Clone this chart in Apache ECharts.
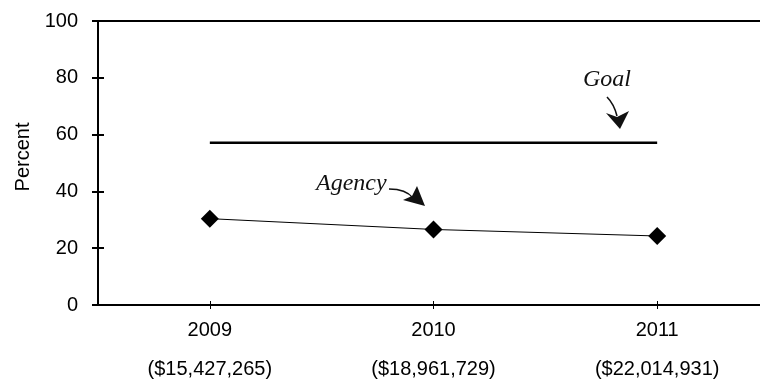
<!DOCTYPE html>
<html>
<head>
<meta charset="utf-8">
<script src="https://cdn.jsdelivr.net/npm/echarts@6/dist/echarts.min.js"></script>
<style>
html,body{margin:0;padding:0;background:#fff;}
#c{width:760px;height:385px;}
</style>
</head>
<body>
<div id="c"></div>
<script>
// ---- data ----
const years = ['2009', '2010', '2011'];
const budgets = ['($15,427,265)', '($18,961,729)', '($22,014,931)'];
const agency = [30.4, 26.6, 24.3];
const goal = [57.1, 57.1, 57.1];
const yMin = 0, yMax = 100, yStep = 20;
const yTitle = 'Percent';
const goalLabel = 'Goal';
const agencyLabel = 'Agency';

const sans = '"Liberation Sans", Arial, sans-serif';
const serif = '"Liberation Serif", "Times New Roman", serif';

const chart = echarts.init(document.getElementById('c'), null, {renderer: 'canvas'});
const option = {
  animation: false,
  backgroundColor: '#fff',
  grid: {left: 98, top: 21, width: 671, height: 284, containLabel: false, outerBoundsMode: 'none'},
  xAxis: [
    {
      type: 'category', data: years, position: 'bottom', boundaryGap: true,
      axisLine: {show: true, onZero: false, lineStyle: {color: '#000', width: 2}},
      axisTick: {show: true, alignWithLabel: true, length: 4, lineStyle: {color: '#000', width: 1}},
      axisLabel: {
        color: '#000', fontFamily: sans, fontSize: 20, lineHeight: 39, margin: 6,
        formatter: function (v, i) { return v + '\n' + budgets[i]; }
      },
      splitLine: {show: false}
    },
    {
      type: 'category', data: years, position: 'bottom', boundaryGap: true,
      axisLine: {show: false, onZero: false},
      axisTick: {show: true, inside: true, alignWithLabel: true, length: 4, lineStyle: {color: '#000', width: 1}},
      axisLabel: {show: false}, splitLine: {show: false}
    },
    {
      type: 'category', data: years, position: 'top', boundaryGap: true,
      axisLine: {show: true, onZero: false, lineStyle: {color: '#000', width: 2}},
      axisTick: {show: false}, axisLabel: {show: false}, splitLine: {show: false}
    }
  ],
  yAxis: [
    {
      type: 'value', min: yMin, max: yMax, interval: yStep, position: 'left',
      axisLine: {show: true, onZero: false, lineStyle: {color: '#000', width: 2}},
      axisTick: {show: true, length: 6, lineStyle: {color: '#000', width: 2}},
      axisLabel: {color: '#000', fontFamily: sans, fontSize: 20, margin: 20},
      splitLine: {show: false},
      name: yTitle, nameLocation: 'middle', nameRotate: 90, nameGap: 64,
      nameTextStyle: {color: '#000', fontFamily: sans, fontSize: 20, padding: [0, 0, 0, 12]}
    },
    {
      type: 'value', min: yMin, max: yMax, interval: yStep, position: 'left',
      axisLine: {show: false, onZero: false},
      axisTick: {show: true, inside: true, length: 6, lineStyle: {color: '#000', width: 2}},
      axisLabel: {show: false}, splitLine: {show: false}
    }
  ],
  series: [
    {
      name: goalLabel, type: 'line', data: goal, xAxisIndex: 0, yAxisIndex: 0,
      symbol: 'none', lineStyle: {color: '#000', width: 2.5}, z: 3
    },
    {
      name: agencyLabel, type: 'line', data: agency, xAxisIndex: 0, yAxisIndex: 0,
      symbol: 'diamond', symbolSize: 18,
      itemStyle: {color: '#000'}, lineStyle: {color: '#000', width: 1}, z: 4
    }
  ],
  graphic: [
    {type: 'text', left: 316, top: 172, style: {text: agencyLabel, font: 'italic 24px ' + serif, fill: '#111'}},
    {type: 'bezierCurve', shape: {x1: 389, y1: 189, cpx1: 406, cpy1: 189, x2: 413, y2: 198},
      style: {stroke: '#111', lineWidth: 1.6, fill: null}},
    {type: 'polygon', shape: {points: [[425, 206], [403, 200], [412, 196], [417, 186]]}, style: {fill: '#111'}},
    {type: 'text', left: 583, top: 68, style: {text: goalLabel, font: 'italic 24px ' + serif, fill: '#111'}},
    {type: 'bezierCurve', shape: {x1: 607, y1: 97, cpx1: 614, cpy1: 104, x2: 617, y2: 116},
      style: {stroke: '#111', lineWidth: 1.6, fill: null}},
    {type: 'polygon', shape: {points: [[620, 129], [606, 113], [617, 117], [629, 111]]}, style: {fill: '#111'}}
  ]
};
chart.setOption(option);
</script>
</body>
</html>
